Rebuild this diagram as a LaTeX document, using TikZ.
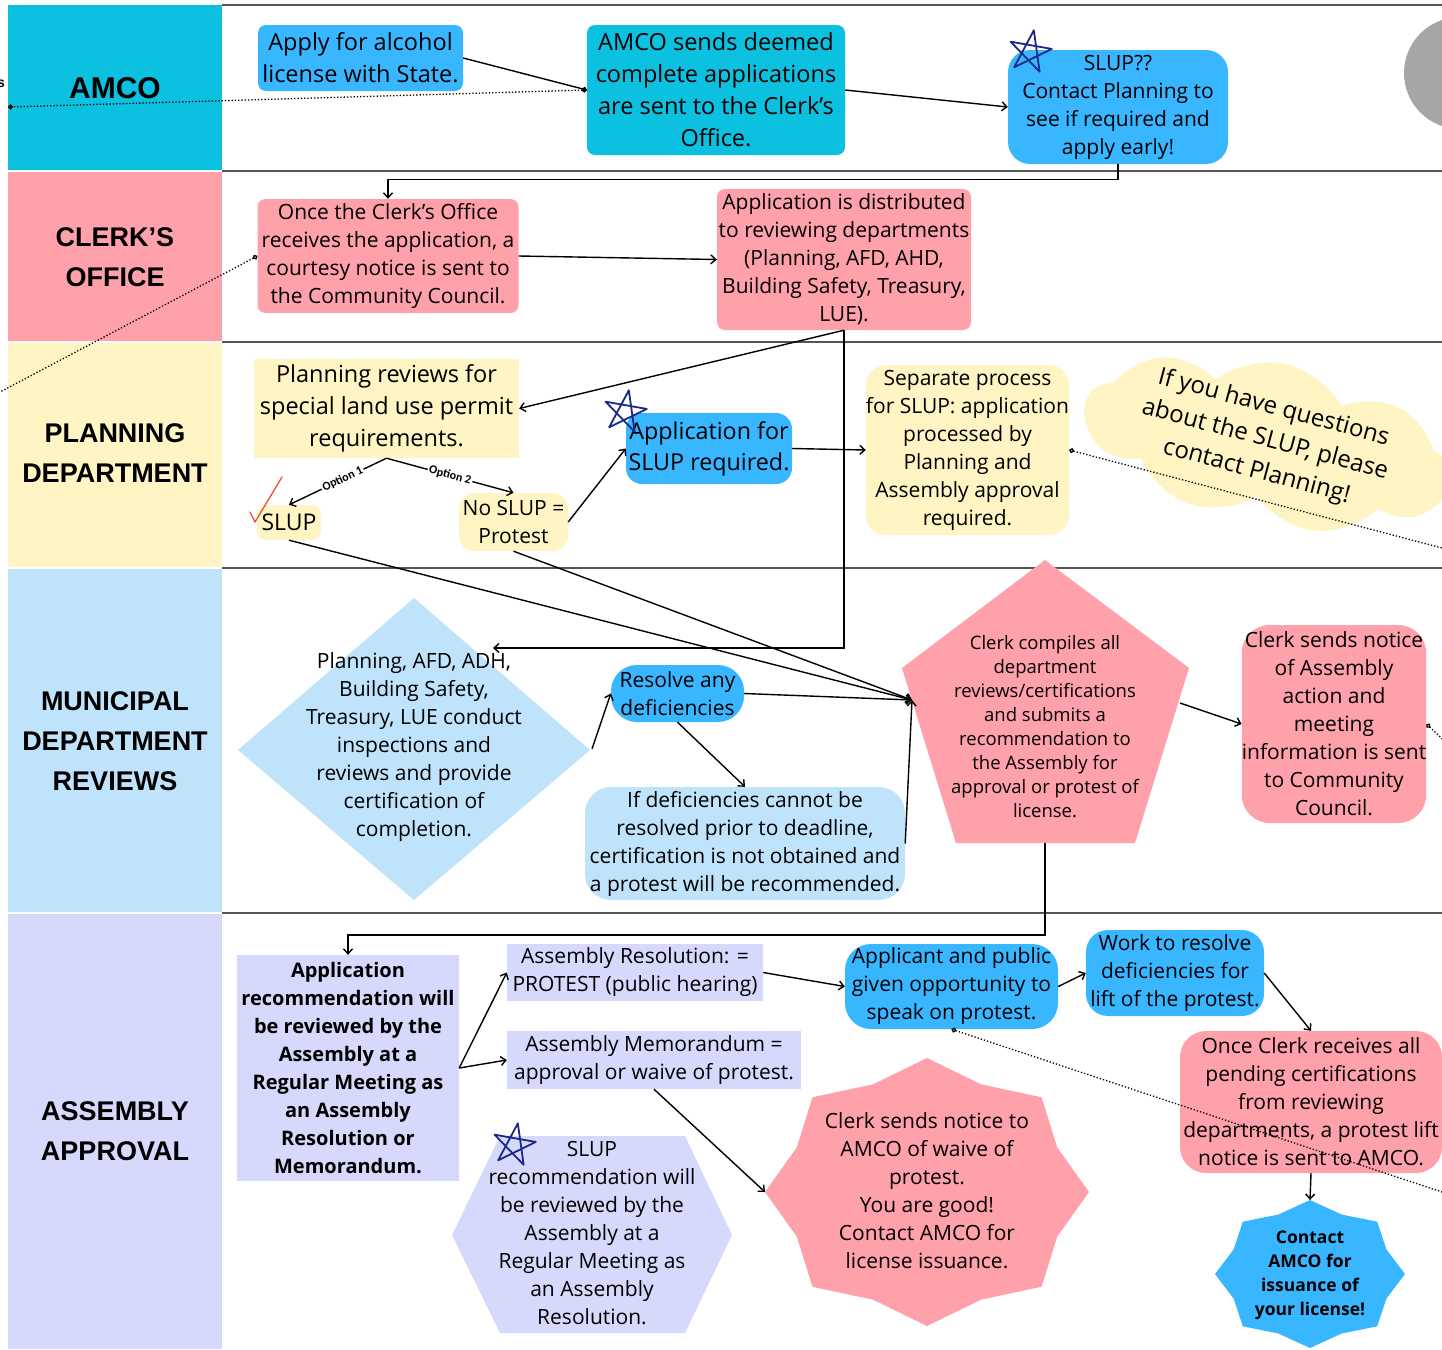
\documentclass[tikz,border=0pt]{standalone}
\usepackage{fontspec}
\setmainfont{Open Sans}
\newfontfamily\lanefont{Liberation Sans}
\newfontfamily\optfont{Carlito}
\usetikzlibrary{arrows.meta,shapes.symbols}
\definecolor{cyanc}{HTML}{0CC0DF}
\definecolor{pinkc}{HTML}{FFA1AA}
\definecolor{yelc}{HTML}{FFF4C4}
\definecolor{lbluec}{HTML}{C0E3FC}
\definecolor{lavc}{HTML}{D7D9FC}
\definecolor{bbluec}{HTML}{38B6FF}
\definecolor{grayc}{HTML}{A6A6A6}
\definecolor{navyc}{HTML}{1B2A8A}
\definecolor{checkc}{HTML}{F24E2E}
\definecolor{sepc}{HTML}{555555}
\newcommand\doodlestar[2]{%
  \draw[doodle,shift={(#1,#2)},rotate=-10]
    (-90:22) -- (54:22) -- (198:22) -- (-18:22) -- (126:22) -- cycle;}
\begin{document}
\begin{tikzpicture}[x=1pt,y=-1pt,
  box/.style={inner sep=0pt, align=center, font=\fontsize{21}{28}\selectfont},
  lane/.style={font=\lanefont\bfseries\fontsize{27}{40}\selectfont, align=center},
  arr/.style={line width=1.4pt, -{Straight Barb[length=5pt,width=9pt]}},
  dotl/.style={line width=1.3pt, dotted},
  doodle/.style={navyc, line width=1.8pt, line join=round, line cap=round},
  optlbl/.style={fill=white, inner sep=1.5pt, font=\optfont\bfseries\fontsize{12}{14}\selectfont},
]
\clip (0,0) rectangle (1442,1349);
\fill[white] (0,0) rectangle (1442,1349);
% lanes
\fill[cyanc] (8,5) rectangle (222,170);
\fill[pinkc] (8,172) rectangle (222,341);
\fill[yelc] (8,343) rectangle (222,567);
\fill[lbluec] (8,569) rectangle (222,912);
\fill[lavc] (8,914) rectangle (222,1349);
\foreach \yy in {5,171,342,568,913} \draw[sepc, line width=1.3pt] (222,\yy) -- (1442,\yy);
\node[lane, font=\lanefont\bfseries\fontsize{30}{36}\selectfont] (lamco) at (115,88) {AMCO};
\node[lane] (lclerk) at (115,257) {CLERK’S\\OFFICE};
\node[lane] (lplan) at (115,453) {PLANNING\\DEPARTMENT};
\node[lane] (lmun) at (115,741) {MUNICIPAL\\DEPARTMENT\\REVIEWS};
\node[lane] (lass) at (115,1131) {ASSEMBLY\\APPROVAL};
\node[font=\lanefont\bfseries\fontsize{14}{16}\selectfont, inner sep=0pt, anchor=east] (cut) at (5,84) {s};
% gray circle
\fill[grayc] (1460,73) circle (56);
% AMCO lane
\node[box, fill=bbluec, rounded corners=8, minimum width=205, minimum height=66, font=\fontsize{23.5}{32}\selectfont] (b1) at (360.5,58) {Apply for alcohol\\license with State.};
\node[box, fill=cyanc, rounded corners=8, minimum width=258, minimum height=130, font=\fontsize{23.5}{32}\selectfont] (b2) at (716,90) {AMCO sends deemed\\complete applications\\are sent to the Clerk’s\\Office.};
\node[box, fill=bbluec, rounded corners=22, minimum width=220, minimum height=114] (b3) at (1118,107) {SLUP??\\Contact Planning to\\see if required and\\apply early!};
\coordinate (amcoL) at (8,107);
% Clerk lane
\node[box, fill=pinkc, rounded corners=8, minimum width=261, minimum height=114] (b5) at (388,256) {Once the Clerk’s Office\\receives the application, a\\courtesy notice is sent to\\the Community Council.};
\node[box, fill=pinkc, rounded corners=8, minimum width=254, minimum height=141] (b6) at (844,259.5) {Application is distributed\\to reviewing departments\\(Planning, AFD, AHD,\\Building Safety, Treasury,\\LUE).};
\coordinate (exitL) at (0,392);
% Planning lane
\node[box, fill=yelc, minimum width=265, minimum height=99, font=\fontsize{23.5}{32}\selectfont] (b8) at (386.5,408.5) {Planning reviews for\\special land use permit\\requirements.};
\node[box, fill=yelc, rounded corners=10, minimum width=64, minimum height=35, font=\fontsize{23}{28}\selectfont] (b9) at (289,522.5) {SLUP};
\node[box, fill=yelc, rounded corners=16, minimum width=109, minimum height=58] (b10) at (513.5,522) {No SLUP =\\Protest};
\node[box, fill=bbluec, rounded corners=16, minimum width=166, minimum height=71, font=\fontsize{23.3}{31}\selectfont] (b11) at (709,448.5) {Application for\\SLUP required.};
\node[box, fill=yelc, rounded corners=20, minimum width=203, minimum height=170] (b12) at (967.5,450) {Separate process\\for SLUP: application\\processed by\\Planning and\\Assembly approval\\required.};
\node[cloud, cloud puffs=9, cloud puff arc=100, aspect=2.3, fill=yelc, minimum width=372, minimum height=162, rotate=-12] (cloud) at (1268,443) {};
\node[box, rotate=-15, font=\fontsize{24}{33}\selectfont] (cloudtxt) at (1265,440) {If you have questions\\about the SLUP, please\\contact Planning!};
\coordinate (exitR1) at (1442,548);
\draw[checkc, line width=1.3pt, line cap=round, line join=round] (250,512) -- (255,522) -- (282,477);
% Municipal lane
\fill[lbluec] (238,750) -- (414,598) -- (590,750) -- (414,900) -- cycle;
\coordinate (dR) at (592,749);
\coordinate (dTop) at (493,648);
\node[box] (dtext) at (414,747) {Planning, AFD, ADH,\\Building Safety,\\Treasury, LUE conduct\\inspections and\\reviews and provide\\certification of\\completion.};
\node[box, fill=bbluec, rounded corners=26, minimum width=133, minimum height=57] (b16) at (677.5,693.5) {Resolve any\\deficiencies};
\node[box, fill=lbluec, rounded corners=26, minimum width=320, minimum height=113] (b17) at (745,843.5) {If deficiencies cannot be\\resolved prior to deadline,\\certification is not obtained and\\a protest will be recommended.};
\fill[pinkc] (1045,560) -- (1189,668) -- (1135,843) -- (956,843) -- (902,668) -- cycle;
\node[box, font=\fontsize{18.5}{24}\selectfont] (ptext) at (1045,727) {Clerk compiles all\\department\\reviews/certifications\\and submits a\\recommendation to\\the Assembly for\\approval or protest of\\license.};
\coordinate (pin) at (912,700);
\coordinate (pR) at (1180,703);
\coordinate (pB) at (1045,843);
\node[box, fill=pinkc, rounded corners=28, minimum width=182, minimum height=198] (b19) at (1334,724) {Clerk sends notice\\of Assembly\\action and\\meeting\\information is sent\\to Community\\Council.};
\coordinate (exitR2) at (1452,748);
% Assembly lane
\node[box, fill=lavc, minimum width=222, minimum height=226, font=\bfseries\fontsize{20}{28}\selectfont] (b20) at (348,1068) {Application\\recommendation will\\be reviewed by the\\Assembly at a\\Regular Meeting as\\an Assembly\\Resolution or\\Memorandum.};
\node[box, fill=lavc, minimum width=256, minimum height=57] (b21) at (635,972.5) {Assembly Resolution: =\\PROTEST (public hearing)};
\node[box, fill=lavc, minimum width=294, minimum height=58] (b22) at (654,1060) {Assembly Memorandum =\\approval or waive of protest.};
\fill[lavc] (500,1136) -- (685,1136) -- (732,1235) -- (685,1333) -- (500,1333) -- (452,1235) -- cycle;
\node[box] (htext) at (592,1233) {SLUP\\recommendation will\\be reviewed by the\\Assembly at a\\Regular Meeting as\\an Assembly\\Resolution.};
\fill[pinkc] plot[samples at={0,22.5,...,337.5}, variable=\t] ({927+162*(1-0.13*mod(round(\t/22.5),2))*cos(\t)},{1192+134*(1-0.13*mod(round(\t/22.5),2))*sin(\t)}) -- cycle;
\node[box] (pstar) at (927,1191) {Clerk sends notice to\\AMCO of waive of\\protest.\\You are good!\\Contact AMCO for\\license issuance.};
\coordinate (pstarL) at (765,1192);
\node[box, fill=bbluec, rounded corners=26, minimum width=213, minimum height=85] (b25) at (951.5,986.5) {Applicant and public\\given opportunity to\\speak on protest.};
\node[box, fill=bbluec, rounded corners=22, minimum width=178, minimum height=86] (b26) at (1175,973) {Work to resolve\\deficiencies for\\lift of the protest.};
\node[box, fill=pinkc, rounded corners=26, minimum width=262, minimum height=142] (b27) at (1311,1102) {Once Clerk receives all\\pending certifications\\from reviewing\\departments, a protest lift\\notice is sent to AMCO.};
\fill[bbluec] plot[samples at={0,22.5,...,337.5}, variable=\t] ({1310+95*(1-0.13*mod(round(\t/22.5),2))*cos(\t)},{1274+74*(1-0.13*mod(round(\t/22.5),2))*sin(\t)}) -- cycle;
\node[box, font=\bfseries\fontsize{17.5}{24}\selectfont] (bstar) at (1310,1275) {Contact\\AMCO for\\issuance of\\your license!};
\coordinate (bstarT) at (1310,1200);
\coordinate (exitR3) at (1442,1192);
% doodle stars
\doodlestar{1030}{52}
\doodlestar{625}{412}
\doodlestar{514}{1145}
% connectors
\draw[line width=1.4pt, -{Circle[length=5pt]}] (b1.east) -- (b2.west);
\draw[dotl, {Circle[length=5pt]}-{Circle[length=5pt]}] (b2.west) -- (amcoL);
\draw[arr] (b2.east) -- (b3.west);
\draw[arr] (b3.south) -- ++(0,15) -| (b5.north);
\draw[arr] (b5.east) -- (b6.west);
\draw[dotl, {Circle[open,length=5pt]}-] (b5.west) -- (exitL);
\draw[arr] (b6.south) -- (b8.east);
\draw[arr] (b6.south) |- (dTop);
\draw[arr] (b8.south) -- node[optlbl, sloped, pos=0.45] {Option 1} (b9.north);
\draw[arr] (b8.south) -- node[optlbl, sloped, pos=0.5] {Option 2} (b10.north);
\draw[arr] (b9.south) -- (pin);
\draw[arr] (b10.south) -- (pin);
\draw[arr] (b10.east) -- (b11.west);
\draw[arr] (b11.east) -- (b12.west);
\draw[dotl, {Circle[open,length=5pt]}-] (b12.east) -- (exitR1);
\draw[arr] (dR) -- (b16.west);
\draw[arr] (b16.east) -- (pin);
\draw[arr] (b16.south) -- (b17.north);
\draw[arr] (b17.east) -- (pin);
\draw[arr] (pR) -- (b19.west);
\draw[dotl, {Circle[open,length=5pt]}-] (b19.east) -- (exitR2);
\draw[arr] (pB) -- ++(0,92) -| (b20.north);
\draw[arr] (b20.east) -- (b21.west);
\draw[arr] (b20.east) -- (b22.west);
\draw[arr] (b21.east) -- (b25.west);
\draw[arr] (b25.east) -- (b26.west);
\draw[arr] (b26.east) -- (b27.north);
\draw[arr] (b27.south) -- (bstarT);
\draw[arr] (b22.south) -- (pstarL);
\draw[dotl, {Circle[open,length=5pt]}-] (b25.south) -- (exitR3);
\end{tikzpicture}
\end{document}
